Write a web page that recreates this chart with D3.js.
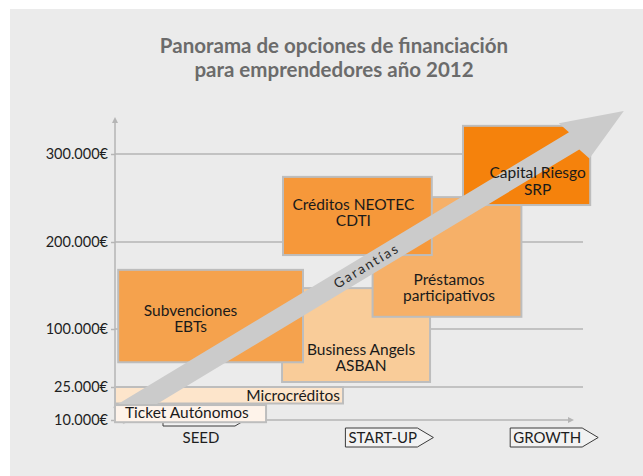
<!DOCTYPE html>
<html>
<head>
<meta charset="utf-8">
<script src="https://cdn.jsdelivr.net/npm/d3@7"></script>
<style>
  body { margin: 0; background: #fff; }
  svg { display: block; font-family: Lato, "Open Sans", sans-serif; }
</style>
</head>
<body>
<svg id="chart" width="643" height="476"></svg>
<script>
// values
var tickValues = [10000, 25000, 100000, 200000, 300000];
var tickLabels = ["10.000€", "25.000€", "100.000€", "200.000€", "300.000€"];

var stages = ["SEED", "START-UP", "GROWTH"];
var stageStart = [0.3, 1.44, 2.47];

// funding options: name lines, amount range (€), stage range
var optionNames = [
    ["Microcréditos"],
    ["Business Angels", "ASBAN"],
    ["Subvenciones", "EBTs"],
    ["Préstamos", "participativos"],
    ["Créditos NEOTEC", "CDTI"],
    ["Capital Riesgo", "SRP"],
    ["Ticket Autónomos"]
];
var amountLow = [17500, 31500, 57000, 114000, 185000, 242000, 9000];
var amountHigh = [25000, 147000, 168000, 251000, 274000, 332000, 16800];
var stageFrom = [0, 1.044, 0.02, 1.61, 1.05, 2.175, 0];
var stageTo = [1.425, 1.969, 1.175, 2.54, 1.98, 2.97, 0.944];

// the "Garantías" arrow, in stage / € units
var arrowFrom = [0.02, 12000];
var arrowTo = [3.18, 349000];

var fills = ["#fde5cb", "#f9cc99", "#f5a24d", "#f6b068", "#f6983a", "#f5820c", "#fef3ea"];

var svg = d3.select("#chart");
var width = 643, height = 476;

svg.append("rect").attr("width", width).attr("height", height).attr("fill", "#fff");
svg.append("rect").attr("x", 10).attr("y", 9).attr("width", width - 10).attr("height", height - 9)
    .attr("fill", "#ebebeb");

var defs = svg.append("defs");
defs.append("marker")
    .attr("id", "axhead")
    .attr("viewBox", "0 0 10 10")
    .attr("refX", 5).attr("refY", 5)
    .attr("markerWidth", 4).attr("markerHeight", 4)
    .attr("orient", "auto")
    .append("path").attr("d", "M0,0L10,5L0,10z").attr("fill", "#b5b5b5");

var x = d3.scaleLinear().domain([0, 3]).range([115, 595]);
// the axis of the original is not linear: one segment per tick
var y = d3.scaleLinear().domain(tickValues).range([420, 387, 329, 242, 154]);

// title
var title = svg.append("text")
    .attr("text-anchor", "middle")
    .attr("fill", "#6b6b6b")
    .style("font-weight", "bold")
    .style("font-size", "20.5px");
title.append("tspan").attr("x", 334).attr("y", 53).text("Panorama de opciones de financiación");
title.append("tspan").attr("x", 334).attr("y", 77).text("para emprendedores año 2012");

// grid
svg.append("g")
    .selectAll("line")
    .data(tickValues.slice(1))
    .enter().append("line")
    .attr("x1", x(0)).attr("x2", 583)
    .attr("y1", function (d) { return y(d); })
    .attr("y2", function (d) { return y(d); })
    .attr("stroke", "#c2c2c2")
    .attr("stroke-width", 2);

// axes lines with arrows
svg.append("line")
    .attr("x1", x(0)).attr("y1", y(10000)).attr("x2", x(0)).attr("y2", 120)
    .attr("stroke", "#b5b5b5").attr("stroke-width", 1.5)
    .attr("marker-end", "url(#axhead)");
svg.append("line")
    .attr("x1", x(0)).attr("y1", y(10000)).attr("x2", 571).attr("y2", y(10000))
    .attr("stroke", "#b5b5b5").attr("stroke-width", 1.5)
    .attr("marker-end", "url(#axhead)");

var yAxis = svg.append("g")
    .attr("transform", "translate(" + x(0) + ",0)")
    .call(d3.axisLeft(y)
        .tickValues(tickValues)
        .tickFormat(function (d, i) { return tickLabels[i]; })
        .tickSize(4)
        .tickPadding(3));
yAxis.select(".domain").remove();
yAxis.selectAll(".tick line").attr("stroke", "#b5b5b5").attr("stroke-width", 1.5);
yAxis.selectAll(".tick text")
    .attr("fill", "#1e1e1e")
    .style("font-family", "Lato, sans-serif")
    .style("font-size", "14.5px");

// stage chevrons
function chevron(x0, y0) {
    return "M" + x0 + "," + y0 + "h72l16,9.5l-16,9.5h-72z";
}
var stageG = svg.append("g");
stageG.selectAll("path")
    .data(stages)
    .enter().append("path")
    .attr("d", function (d, i) { return chevron(x(stageStart[i]), i === 0 ? 407 : 428); })
    .attr("fill", "#f2f2f2")
    .attr("stroke", "#3a3a3a")
    .attr("stroke-width", 1);
stageG.selectAll("text")
    .data(stages)
    .enter().append("text")
    .attr("x", function (d, i) { return i === 0 ? x(stageStart[i]) + 38 : x(stageStart[i]) + 3; })
    .attr("y", 443)
    .attr("text-anchor", function (d, i) { return i === 0 ? "middle" : "start"; })
    .attr("fill", "#1e1e1e")
    .style("font-size", "15px")
    .text(function (d) { return d; });

var options = optionNames.map(function (n, i) {
    return {name: n, low: amountLow[i], high: amountHigh[i], from: stageFrom[i], to: stageTo[i], fill: fills[i]};
});

function drawBox(g, d) {
    g.append("rect")
        .attr("x", x(d.from))
        .attr("y", y(d.high))
        .attr("width", x(d.to) - x(d.from))
        .attr("height", y(d.low) - y(d.high))
        .attr("fill", d.fill)
        .attr("stroke", "#bdbdbd")
        .attr("stroke-width", 2);
}

var boxes = svg.append("g");
options.slice(0, 6).forEach(function (d) { drawBox(boxes, d); });

// arrow, drawn over the boxes
var ax0 = x(arrowFrom[0]), ay0 = y(arrowFrom[1]);
var ax1 = x(arrowTo[0]), ay1 = y(arrowTo[1]);
var ang = Math.atan2(ay1 - ay0, ax1 - ax0);
var len = Math.hypot(ax1 - ax0, ay1 - ay0);
var shaftHalf = 10, headHalf = 23, headLen = 58;
var arrowPts = [
    [0, -shaftHalf], [len - headLen, -shaftHalf], [len - headLen - 4, -headHalf],
    [len, 0], [len - headLen + 4, headHalf], [len - headLen, shaftHalf], [0, shaftHalf]
];
var arrowG = svg.append("g")
    .attr("transform", "translate(" + ax0 + "," + ay0 + ") rotate(" + (ang * 180 / Math.PI) + ")");
arrowG.append("path")
    .attr("d", d3.line()(arrowPts) + "Z")
    .attr("fill", "#cbcbcb");
arrowG.append("text")
    .attr("x", 290)
    .attr("y", 4.5)
    .attr("text-anchor", "middle")
    .attr("fill", "#2a2a2a")
    .style("font-size", "13.5px")
    .style("letter-spacing", "2px")
    .text("Garantías");

// the ticket box sits over the arrow's tail
drawBox(svg.append("g"), options[6]);

// labels
var labelNudge = [[0, -1], [5, 21], [-20, 1], [2, 29], [-4, -5], [11, 14], [0, -2.5]];
var labels = svg.append("g")
    .attr("fill", "#1a1a1a")
    .style("font-size", "15.5px");
options.forEach(function (d, i) {
    var t = labels.append("text");
    var cx, anchor;
    if (i === 0) { cx = x(d.to) - 3; anchor = "end"; }
    else if (i === 6) { cx = x(d.from) + 10; anchor = "start"; }
    else { cx = (x(d.from) + x(d.to)) / 2 + labelNudge[i][0]; anchor = "middle"; }
    var cy = (y(d.high) + y(d.low)) / 2 + 7 + labelNudge[i][1];
    var n = d.name.length;
    d.name.forEach(function (line, k) {
        t.append("tspan")
            .attr("x", cx)
            .attr("y", cy + (k - (n - 1) / 2) * 16.5)
            .attr("text-anchor", anchor)
            .text(line);
    });
});
</script>
</body>
</html>
